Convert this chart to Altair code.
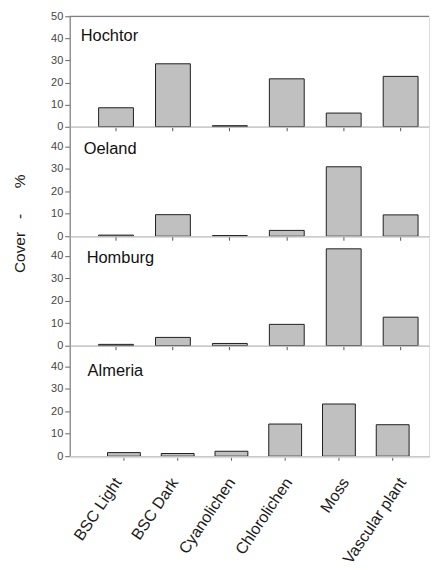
import altair as alt
import pandas as pd

categories = ["BSC Light", "BSC Dark", "Cyanolichen", "Chlorolichen", "Moss", "Vascular plant"]
sites = ["Hochtor", "Oeland", "Homburg", "Almeria"]
hochtor = [8.6, 28.5, 0.5, 21.7, 6.2, 22.8]
oeland = [0.5, 9.6, 0.3, 2.6, 30.9, 9.5]
homburg = [0.6, 3.7, 1.0, 9.5, 43.1, 12.7]
almeria = [1.6, 1.2, 2.2, 14.3, 23.2, 14.0]
y_title = "Cover\u00a0\u00a0\u00a0-\u00a0\u00a0\u00a0\u00a0\u00a0\u00a0%"

FONT = "Liberation Sans"
W = 361
AXIS_GRAY = "#808080"


def panel(site, values, height, ymax, yticks, xscale, lx, ly, top_rule, with_title):
    df = pd.DataFrame({"Category": categories, "Cover": values})
    x_axis = alt.Axis(
        title=None,
        labels=False,
        domainColor=AXIS_GRAY,
        domainWidth=1.2,
        tickColor="#555555",
        tickSize=4,
    )
    y_kwargs = dict(
        values=yticks,
        grid=False,
        domainColor=AXIS_GRAY,
        domainWidth=1.2,
        tickColor="#666666",
        tickSize=5,
        labelFontSize=11,
        labelFont=FONT,
        labelColor="#444444",
        labelPadding=2,
    )
    if with_title:
        y_kwargs.update(
            title=y_title,
            titleFont=FONT,
            titleFontSize=15.5,
            titleFontWeight="normal",
            titleColor="#1a1a1a",
            titleAngle=270,
            titleX=-50,
            titleY=97,
            titleAlign="center",
            titleBaseline="middle",
        )
    else:
        y_kwargs.update(title=None)
    bars = alt.Chart(df).mark_bar(
        fill="#c0c0c0", stroke="#1f1f1f", strokeWidth=1
    ).encode(
        x=alt.X("Category:N", sort=categories, scale=xscale, axis=x_axis),
        y=alt.Y(
            "Cover:Q",
            scale=alt.Scale(domain=[0, ymax], nice=False, zero=True),
            axis=alt.Axis(**y_kwargs),
        ),
    )
    lab_df = pd.DataFrame({"Site": [site]})
    label = alt.Chart(lab_df).mark_text(
        align="left", baseline="alphabetic", fontSize=16.5, font=FONT, color="#111111"
    ).encode(x=alt.value(lx), y=alt.value(ly), text="Site:N")
    layers = [bars, label]
    if top_rule:
        rule = alt.Chart(lab_df).mark_rule(color=AXIS_GRAY, strokeWidth=1.2).encode(
            x=alt.value(0), x2=alt.value(W), y=alt.value(0)
        )
        layers.append(rule)
    return alt.layer(*layers).properties(width=W, height=height)


top_scale = alt.Scale(paddingInner=0.388, paddingOuter=0.35, align=0.725)
bottom_scale = alt.Scale(paddingInner=0.389, paddingOuter=0.537, align=0.655)

p1 = panel(sites[0], hochtor, 111, 50, [0, 10, 20, 30, 40, 50], top_scale, 11, 25, True, False)
p2 = panel(sites[1], oeland, 110, 48.7, [0, 10, 20, 30, 40], top_scale, 14, 27, False, True)
p3 = panel(sites[2], homburg, 110, 48.7, [0, 10, 20, 30, 40], top_scale, 17, 27, False, False)
p4 = panel(sites[3], almeria, 111, 49.1, [0, 10, 20, 30, 40], bottom_scale, 18, 30, False, False)

# category labels row (labels follow the upper panels' spacing)
cat_df = pd.DataFrame({"Category": categories})
labels_row = alt.Chart(cat_df).mark_tick(opacity=0).encode(
    x=alt.X(
        "Category:N",
        sort=categories,
        scale=top_scale,
        axis=alt.Axis(
            title=None,
            domain=False,
            ticks=False,
            labelAngle=304,
            labelAlign="right",
            labelBaseline="middle",
            labelFontSize=16,
            labelFont=FONT,
            labelColor="#1a1a1a",
            labelPadding=22,
            labelOffset=2,
            labelOverlap=False,
        ),
    )
).properties(width=W, height=1)

chart = alt.vconcat(p1, p2, p3, p4, labels_row, spacing=0, bounds="flush").resolve_scale(
    x="independent", y="independent"
).properties(
    padding={"left": 4, "top": 0, "right": 0, "bottom": 0}
).configure_view(stroke=None).configure(background="white")

chart.save("out.html", embed_options={"renderer": "svg", "actions": False})
